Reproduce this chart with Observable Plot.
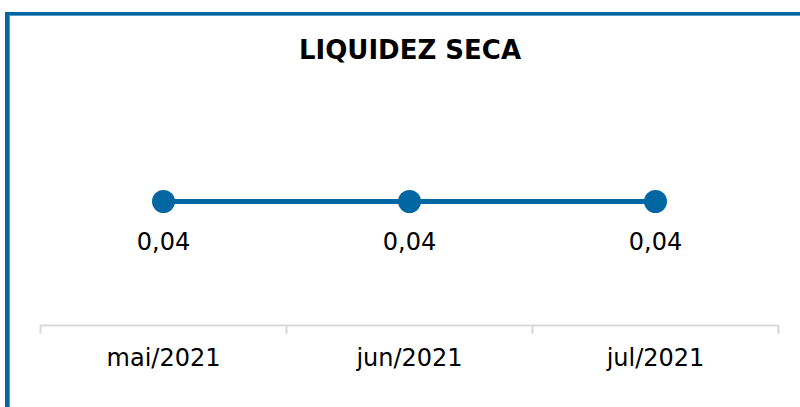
<!DOCTYPE html>
<html>
<head>
<meta charset="utf-8">
<script src="https://cdn.jsdelivr.net/npm/d3@7"></script>
<script src="https://cdn.jsdelivr.net/npm/@observablehq/plot@0.6"></script>
<style>
  html, body { margin: 0; padding: 0; background: #fff; overflow: hidden; }
  #wrap { position: relative; width: 800px; height: 407px; }
  #border { position: absolute; left: 5px; top: 12px; width: 820px; height: 420px;
    border-left: 4px solid #0067A3; border-top: 3px solid #0067A3;
    box-shadow: inset 1px 1px 0 #5A9CC9; box-sizing: border-box; }
  #title { position: absolute; left: 0; width: 820px; top: 35px; text-align: center;
    font-family: "DejaVu Sans", sans-serif; font-weight: bold; font-size: 26px; color: #000; }
  #chart { position: absolute; left: 0; top: 0; }
</style>
</head>
<body>
<div id="wrap">
  <div id="border"></div>
  <div id="title">LIQUIDEZ SECA</div>
  <div id="chart"></div>
</div>
<script>
const categories = ["mai/2021", "jun/2021", "jul/2021"];
const values = [0.04, 0.04, 0.04];
const valueLabels = ["0,04", "0,04", "0,04"];

const data = categories.map((c, i) => ({cat: c, idx: i + 0.5, value: values[i], label: valueLabels[i]}));
const edges = d3.range(categories.length + 1);

const font = "DejaVu Sans, sans-serif";
const color = "#0067A3";

const chart = Plot.plot({
  width: 800,
  height: 407,
  marginLeft: 40,
  marginRight: 22,
  marginTop: 0,
  marginBottom: 82,
  style: {fontFamily: font, background: "transparent", overflow: "visible"},
  x: {type: "linear", domain: [0, categories.length], axis: null},
  y: {domain: [0, 0.08], range: [325, 77], axis: null},
  marks: [
    Plot.ruleY([0], {stroke: "#D9D9D9", strokeWidth: 2}),
    Plot.axisX(edges, {tickSize: 9, tickFormat: () => "", label: null, stroke: "#D9D9D9", strokeWidth: 2}),
    Plot.text(data, {x: "idx", y: 0, text: "cat", dy: 33, fontSize: 24, fill: "#000"}),
    Plot.line(data, {x: "idx", y: "value", stroke: color, strokeWidth: 5}),
    Plot.dot(data, {x: "idx", y: "value", r: 11.5, fill: color, stroke: "none"}),
    Plot.text(data, {x: "idx", y: "value", text: "label", dy: 41, fontSize: 24, fill: "#000"})
  ]
});
document.getElementById("chart").appendChild(chart);
</script>
</body>
</html>
